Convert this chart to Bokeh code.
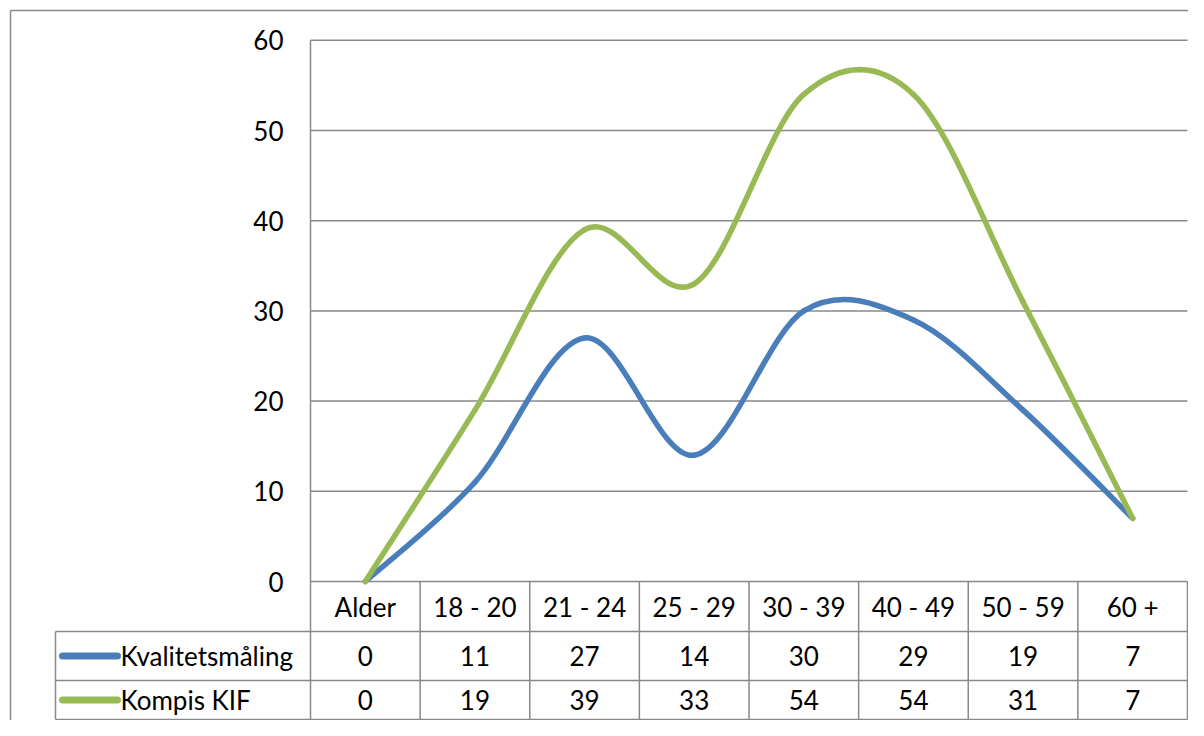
from bokeh.plotting import figure
from bokeh.models import Range1d, ColumnDataSource
from bokeh.core.properties import value
from bokeh.embed import file_html
from bokeh.resources import INLINE

# ---------------- data ----------------
categories = ["Alder", "18 - 20", "21 - 24", "25 - 29", "30 - 39", "40 - 49", "50 - 59", "60 +"]
kvalitet = [0, 11, 27, 14, 30, 29, 19, 7]
kompis = [0, 19, 39, 33, 54, 54, 31, 7]
series_names = ["Kvalitetsmåling", "Kompis KIF"]
series_colors = ["#4A7EBB", "#98B954"]
y_ticks = [0, 10, 20, 30, 40, 50, 60]

# ---------------- layout ----------------
W, H = 1188, 720
PX_CAT = 109.625      # px per category column
PX_UNIT = 9.02        # px per y unit
X0 = 310              # figure px of plot-area left edge
Y0 = 581              # figure px of y = 0 (from top)

def ux(px):           # figure px -> x units
    return (px - X0) / PX_CAT

def uy(px):           # figure px (from top) -> y units
    return (Y0 - px) / PX_UNIT

FONT = value("Lato")
FS = "26px"
GRID = "#898989"
n = len(categories)

p = figure(width=W, height=H, output_backend="svg", toolbar_location=None,
           x_range=Range1d(ux(0), ux(W)), y_range=Range1d(uy(H), uy(0)),
           x_axis_location=None, y_axis_location=None, min_border=0,
           outline_line_color=None, background_fill_color="white",
           border_fill_color="white")
p.xgrid.visible = False
p.ygrid.visible = False

# outer chart border
p.segment(x0=[ux(10), ux(10)], y0=[uy(10), uy(10)], x1=[ux(10), ux(W + 20)], y1=[uy(H + 20), uy(10)],
          line_color=GRID, line_width=1.5)

# horizontal gridlines (10..60) and plot-area left border
p.segment(x0=[0] * (len(y_ticks) - 1), x1=[n] * (len(y_ticks) - 1),
          y0=y_ticks[1:], y1=y_ticks[1:], line_color=GRID, line_width=1.5)
p.segment(x0=[0], x1=[0], y0=[0], y1=[y_ticks[-1]], line_color=GRID, line_width=1.5)

# y tick labels
p.text(x=[ux(283)] * len(y_ticks), y=y_ticks, text=[str(t) for t in y_ticks],
       text_align="right", text_baseline="middle", text_font=FONT,
       text_font_size=FS, text_color="black")

# data table geometry
row_b = [0, uy(Y0 + 50), uy(Y0 + 99), uy(Y0 + 138)]
leg_x = ux(55)

# table lines
p.segment(x0=list(range(n + 1)), x1=list(range(n + 1)), y0=[0] * (n + 1),
          y1=[row_b[-1]] * (n + 1), line_color=GRID, line_width=1.5)
p.segment(x0=[0, leg_x, leg_x, leg_x], x1=[n] * 4, y0=row_b, y1=row_b,
          line_color=GRID, line_width=1.5)
p.segment(x0=[leg_x], x1=[leg_x], y0=[row_b[1]], y1=[row_b[-1]],
          line_color=GRID, line_width=1.5)

# header row
centers = [i + 0.5 for i in range(n)]
p.text(x=centers, y=[(row_b[0] + row_b[1]) / 2] * n, text=categories,
       text_align="center", text_baseline="middle", text_font=FONT,
       text_font_size=FS, text_color="black")

# series rows + legend keys
for r, (vals, name, col) in enumerate(zip([kvalitet, kompis], series_names, series_colors)):
    yc = (row_b[r + 1] + row_b[r + 2]) / 2
    p.text(x=centers, y=[yc] * n, text=[str(v) for v in vals],
           text_align="center", text_baseline="middle", text_font=FONT,
           text_font_size=FS, text_color="black")
    p.segment(x0=[ux(62)], x1=[ux(117)], y0=[yc], y1=[yc], line_color=col,
              line_width=7, line_cap="round")
    p.text(x=[ux(120)], y=[yc], text=[name], text_align="left",
           text_baseline="middle", text_font=FONT, text_font_size=FS,
           text_color="black")

# smoothed lines (Catmull-Rom style Bezier segments through the data points)
for vals, col in zip([kvalitet, kompis], series_colors):
    pts = list(zip(centers, vals))
    src = dict(x0=[], y0=[], x1=[], y1=[], cx0=[], cy0=[], cx1=[], cy1=[])
    for i in range(n - 1):
        pa = pts[i - 1] if i > 0 else pts[i]
        p1 = pts[i]
        p2 = pts[i + 1]
        pb = pts[i + 2] if i + 2 < n else pts[i + 1]
        src["x0"].append(p1[0]); src["y0"].append(p1[1])
        src["x1"].append(p2[0]); src["y1"].append(p2[1])
        src["cx0"].append(p1[0] + (p2[0] - pa[0]) / 6)
        src["cy0"].append(p1[1] + (p2[1] - pa[1]) / 6)
        src["cx1"].append(p2[0] - (pb[0] - p1[0]) / 6)
        src["cy1"].append(p2[1] - (pb[1] - p1[1]) / 6)
    p.bezier(x0="x0", y0="y0", x1="x1", y1="y1", cx0="cx0", cy0="cy0",
             cx1="cx1", cy1="cy1", source=ColumnDataSource(src),
             line_color=col, line_width=5.5, line_cap="round")

open("out.html", "w").write(file_html(p, INLINE))
